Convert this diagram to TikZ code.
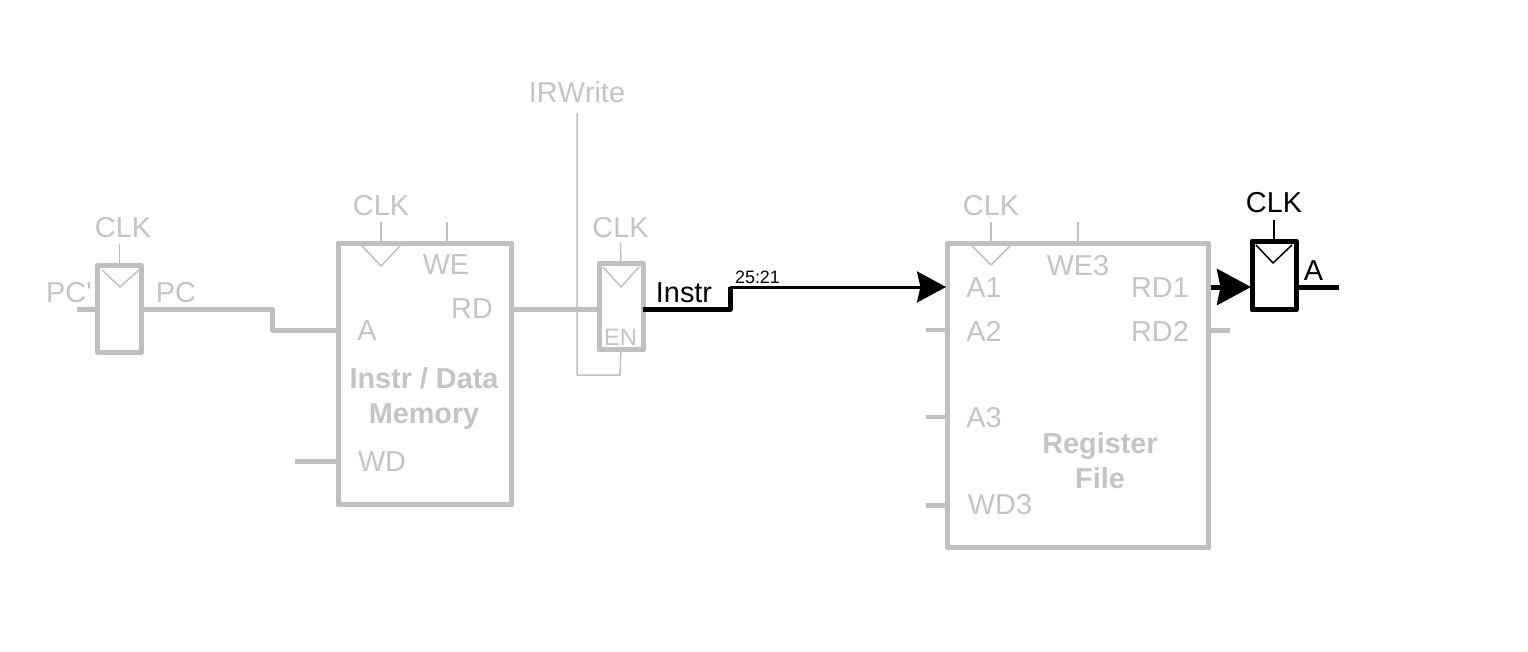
\documentclass[tikz,border=0pt]{standalone}
\usepackage{fontspec}
\setmainfont{Liberation Sans}
\newfontfamily\plainfont{Liberation Sans}
\usetikzlibrary{arrows.meta}
\definecolor{faded}{HTML}{C0C0C0}
\definecolor{fadedtext}{HTML}{C4C4C4}
\begin{document}
\begin{tikzpicture}[x=0.02cm, y=-0.02cm, line join=round,
    lbl/.style={text=fadedtext, inner sep=0pt, font=\fontsize{16.4}{18}\selectfont},
    lblon/.style={lbl, text=black},
    title/.style={lbl, align=center, font=\fontsize{16.4}{19.6}\selectfont\bfseries},
    unit/.style={draw=faded, line width=0.1cm, inner sep=0pt, outer sep=0pt},
    flop/.style={unit, minimum width=0.88cm},
    bus/.style={draw=faded, line width=0.1cm},
    stub/.style={draw=faded, line width=0.07cm},
    thin/.style={draw=faded, line width=0.03cm},
    buson/.style={draw=black, line width=0.1cm},
    headA/.style={-{Stealth[length=0.58cm, width=0.62cm, inset=0.07cm]}},
    headB/.style={-{Stealth[length=0.68cm, width=0.72cm, inset=0.07cm]}}]
  \useasboundingbox (0,0) rectangle (1528,652);

  % enable line goes behind everything
  \node (irwrite) at (577,92) [lbl, font=\fontsize{16.4}{18}\plainfont\addfontfeature{Kerning=Off}] {IRWrite};
  \coordinate (enturn) at (577,375);
  \coordinate (enbelow) at (620,375);
  \coordinate (entop) at (577,113);

  % blocks
  \node (pcreg) at (119.5,309) [flop, minimum height=1.74cm] {};
  \node (memory) at (425,374) [unit, minimum width=3.48cm, minimum height=5.24cm] {};
  \node (irreg) at (621,306.5) [flop, minimum height=1.74cm] {};
  \node (regfile) at (1078,395.5) [unit, minimum width=5.24cm, minimum height=6.1cm] {};

  % pins
  \coordinate (pcin) at (77,309);
  \coordinate (pcbend) at (272,309);
  \coordinate (pcdown) at (272,330);
  \coordinate (mema) at (338,330);
  \coordinate (memwd) at (338,461);
  \coordinate (wdfree) at (295,461);
  \coordinate (memrd) at (512,309);
  \coordinate (irin) at (599,309);
  \coordinate (irout) at (643,309);
  \coordinate (instrbend) at (730,309);
  \coordinate (instrup) at (730,287);
  \coordinate (rfa1) at (946,287);
  \coordinate (rfa2) at (947,330);
  \coordinate (rfa3) at (947,417);
  \coordinate (rfwd) at (947,505);
  \coordinate (rfrd1) at (1211,287);
  \coordinate (rfrd2) at (1209,330);
  \coordinate (a2free) at (926,330);
  \coordinate (a3free) at (926,417);
  \coordinate (wdfree3) at (926,505);
  \coordinate (rd2free) at (1230,330);
  \coordinate (aflopin) at (1251,287);
  \coordinate (aflopout) at (1296,287);
  \coordinate (afree) at (1339,287);

  \draw [thin] (entop) -- (enturn) -- (enbelow) -- (irreg.south);

  \draw [bus] (pcin) -- (pcreg.west);
  \draw [bus] (pcreg.east) -- (pcbend) -- (pcdown) -- (mema);
  \draw [bus] (memrd) -- (irin);
  \draw [bus] (wdfree) -- (memwd);
  \draw [stub] (a2free) -- (rfa2);
  \draw [stub] (a3free) -- (rfa3);
  \draw [bus] (wdfree3) -- (rfwd);
  \draw [bus] (rfrd2) -- (rd2free);

  % clock ticks and triangles
  \draw [thin] (pcreg.north) -- (119.5,244);
  \draw [thin] (102,270) -- (120,287) -- (139,270);
  \draw [thin] (irreg.north) -- (620.5,243);
  \draw [thin] (603,267) -- (621,287) -- (639,267);
  \draw [thin] (381,243) -- (381,222);
  \draw [thin] (362,246) -- (381,266) -- (400,246);
  \draw [thin] (447,243) -- (447,222);
  \draw [thin] (991,243) -- (991,222);
  \draw [thin] (972,246) -- (991,265) -- (1010,246);
  \draw [thin] (1078,243) -- (1078,222);

  % active path
  \node (areg) at (1274,275.5) [flop, draw=black, minimum height=1.38cm] {};
  \draw [black, line width=0.03cm] (areg.north) -- (1274,220);
  \draw [black, line width=0.03cm] (1256,245) -- (1273,263) -- (1292,245);
  \draw [buson] (irout) -- (instrbend) -- (instrup);
  \draw [black, line width=0.06cm, headA] (instrup) -- (rfa1);
  \draw [buson, headB] (rfrd1) -- (aflopin);
  \draw [buson] (aflopout) -- (afree);

  % labels
  \node (clkpc) at (123,228) [lbl] {CLK};
  \node (pcnext) at (69,293) [lbl, font=\fontsize{16.4}{18}\plainfont] {PC'};
  \node (pcname) at (176,293) [lbl] {PC};
  \node (clkmem) at (381,206) [lbl] {CLK};
  \node (we) at (446,265) [lbl] {WE};
  \node (rd) at (472,309) [lbl] {RD};
  \node (aname) at (367,331) [lbl] {A};
  \node (memname) at (424,398.5) [title] {Instr / Data\\Memory};
  \node (wd) at (382,462) [lbl] {WD};
  \node (clkir) at (620.5,228) [lbl] {CLK};
  \node (en) at (620.5,337) [lbl, font=\fontsize{13.5}{15}\selectfont] {EN};
  \node (instr) at (684,293) [lblon] {Instr};
  \node (bits) at (757.5,277.5) [lblon, font=\fontsize{10.2}{12}\selectfont] {25:21};
  \node (clkrf) at (991,206) [lbl] {CLK};
  \node (a1) at (984,288) [lbl] {A1};
  \node (a2) at (984,331) [lbl] {A2};
  \node (a3) at (984,418) [lbl] {A3};
  \node (wd3) at (1000,505) [lbl] {WD3};
  \node (we3) at (1078,266) [lbl] {WE3};
  \node (rd1) at (1160,288) [lbl] {RD1};
  \node (rd2) at (1160,331) [lbl] {RD2};
  \node (rfname) at (1100,460.5) [title] {Register\\File};
  \node (clka) at (1274,203) [lblon] {CLK};
  \node (aout) at (1313.5,271) [lblon] {A};
\end{tikzpicture}
\end{document}
